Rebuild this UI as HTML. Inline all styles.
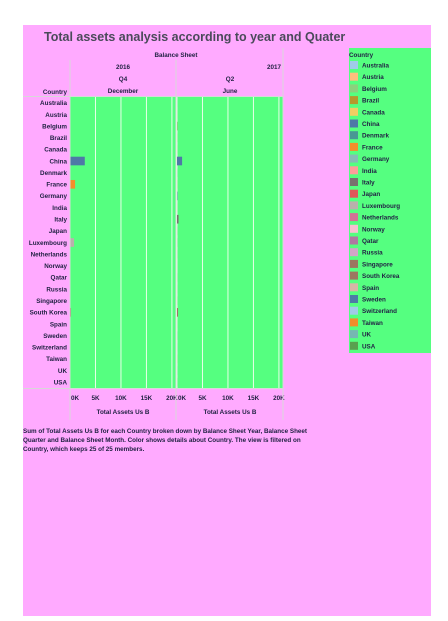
<!DOCTYPE html>
<html><head><meta charset="utf-8"><style>
body{margin:0;width:448px;height:616px;background:#fff;font-family:"Liberation Sans",sans-serif;overflow:hidden}
svg text{font-family:"Liberation Sans",sans-serif}
</style></head><body>
<svg width="448" height="616">
<rect x="23" y="25" width="408" height="591" fill="#ffaaff"/>
<text x="44" y="41" font-size="12.5" font-weight="bold" fill="#4a4a5a">Total assets analysis according to year and Quater</text>
<g id="plot"></g>
<g id="legend"></g>
<text font-size="6.3" font-weight="bold" fill="#222244">
<tspan x="23" y="433">Sum of Total Assets Us B for each Country broken down by Balance Sheet Year, Balance Sheet</tspan>
<tspan x="23" y="442">Quarter and Balance Sheet Month.  Color shows details about Country. The view is filtered on</tspan>
<tspan x="23" y="451">Country, which keeps 25 of 25 members.</tspan></text>
</svg>
<script>
const countries=["Australia","Austria","Belgium","Brazil","Canada","China","Denmark","France","Germany","India","Italy","Japan","Luxembourg","Netherlands","Norway","Qatar","Russia","Singapore","South Korea","Spain","Sweden","Switzerland","Taiwan","UK","USA"];
const colors=["#a0cbe8","#ffbe7d","#8cd17d","#b6992d","#f1ce63","#4e79a7","#499894","#f28e2b","#86bcb6","#ff9d9a","#79706e","#e15759","#bab0ac","#d37295","#fabfd2","#b07aa1","#d4a6c8","#9d7660","#9d7660","#d7b5a6","#4e79a7","#a0cbe8","#f28e2b","#76b7b2","#59a14f"];
const values2016=[20,10,30,10,10,2900,10,1000,20,10,30,10,800,10,10,10,10,10,200,10,10,10,10,10,10];
const values2017=[10,10,150,10,10,1000,10,10,150,10,300,10,20,10,10,10,10,10,200,10,10,10,10,10,10];
const ticks=[0,5000,10000,15000,20000];
const tickLabels=["0K","5K","10K","15K","20K"];
const NS="http://www.w3.org/2000/svg";
const plot=document.getElementById('plot'),leg=document.getElementById('legend');
function mk(p,t,a,txt){const e=document.createElementNS(NS,t);for(const k in a)e.setAttribute(k,a[k]);if(txt!=null)e.textContent=txt;p.appendChild(e);return e;}
const plotTop=97,plotBot=388,rowH=(plotBot-plotTop)/countries.length;
const panels=[{x0:70,x1:176,vals:values2016,yr:"2016",q:"Q4",m:"December"},{x0:177,x1:283,vals:values2017,yr:"2017",q:"Q2",m:"June"}];
const maxV=20800;
function xs(p,v){return p.x0+v/maxV*(p.x1-p.x0);}
function yb(i){return plotTop+i*rowH;}
let t;
t=mk(plot,'text',{x:176,y:57,'font-size':6.3,'font-weight':'bold',fill:'#222244','text-anchor':'middle'},"Balance Sheet");


t=mk(plot,'text',{x:67,y:94,'font-size':6.3,'font-weight':'bold',fill:'#222244','text-anchor':'end'},"Country");


panels.forEach((p,pi)=>{
  let r=mk(plot,'rect',{x:p.x0,y:plotTop,width:p.x1-p.x0,height:plotBot-plotTop,fill:'#55ff80'});
  
  
  ticks.forEach((v,i)=>{
    let l=mk(plot,'line',{x1:xs(p,v),x2:xs(p,v),y1:plotTop,y2:plotBot,stroke:'#e8ffe8','stroke-width':1});
    
    
    let tx=mk(plot,'text',{x:xs(p,v)+(i==0?1:0),y:400,'font-size':6.3,'font-weight':'bold',fill:'#222244','text-anchor':i==0?'start':'middle'},tickLabels[i]);
    
    
  });
  const cx=(p.x0+p.x1)/2;
  let yt=mk(plot,'text',{x:pi==0?cx:p.x1-2,y:69,'font-size':6.3,'font-weight':'bold',fill:'#222244','text-anchor':pi==0?'middle':'end'},p.yr);
  
  
  let qt=mk(plot,'text',{x:cx,y:81,'font-size':6.3,'font-weight':'bold',fill:'#222244','text-anchor':'middle'},p.q);
  
  
  let mt=mk(plot,'text',{x:cx,y:93,'font-size':6.3,'font-weight':'bold',fill:'#222244','text-anchor':'middle'},p.m);
  
  
  let at=mk(plot,'text',{x:cx,y:414,'font-size':6.3,'font-weight':'bold',fill:'#222244','text-anchor':'middle'},"Total Assets Us B");
  
  
  p.vals.forEach((v,i)=>{
    let b=mk(plot,'rect',{x:p.x0,y:yb(i)+1.5,width:Math.max(0,xs(p,v)-p.x0),height:rowH-3,fill:colors[i]});
    
    
  });
});
[[70,60],[176,60],[283,48]].forEach(([x,y])=>{
  let l=mk(plot,'line',{x1:x,x2:x,y1:y,y2:420,stroke:'#d8d8d8','stroke-width':1});
  
  
});
let ax=mk(plot,'line',{x1:23,x2:283,y1:plotBot+0.5,y2:plotBot+0.5,stroke:'#d8d8d8'});


let hl=mk(plot,'line',{x1:23,x2:283,y1:plotTop-0.5,y2:plotTop-0.5,stroke:'#d8d8d8'});


countries.forEach((c,i)=>{
  let tx=mk(plot,'text',{x:67,y:yb(i)+rowH/2+2.3,'font-size':6.3,'font-weight':'bold',fill:'#222244','text-anchor':'end'},c);
  
  
});
let lb=mk(leg,'rect',{x:349,y:48,width:82,height:305,fill:'#55ff80'});


let lt=mk(leg,'text',{x:349,y:57,'font-size':6.3,'font-weight':'bold',fill:'#222244'},"Country");


countries.forEach((c,i)=>{
  const y=61+i*11.7;
  let s=mk(leg,'rect',{x:350,y:y,width:8,height:8,fill:colors[i]});
  
  
  let tx=mk(leg,'text',{x:362,y:y+6.5,'font-size':6.3,'font-weight':'bold',fill:'#222244'},c);
  
  
});
</script>
</body></html>
